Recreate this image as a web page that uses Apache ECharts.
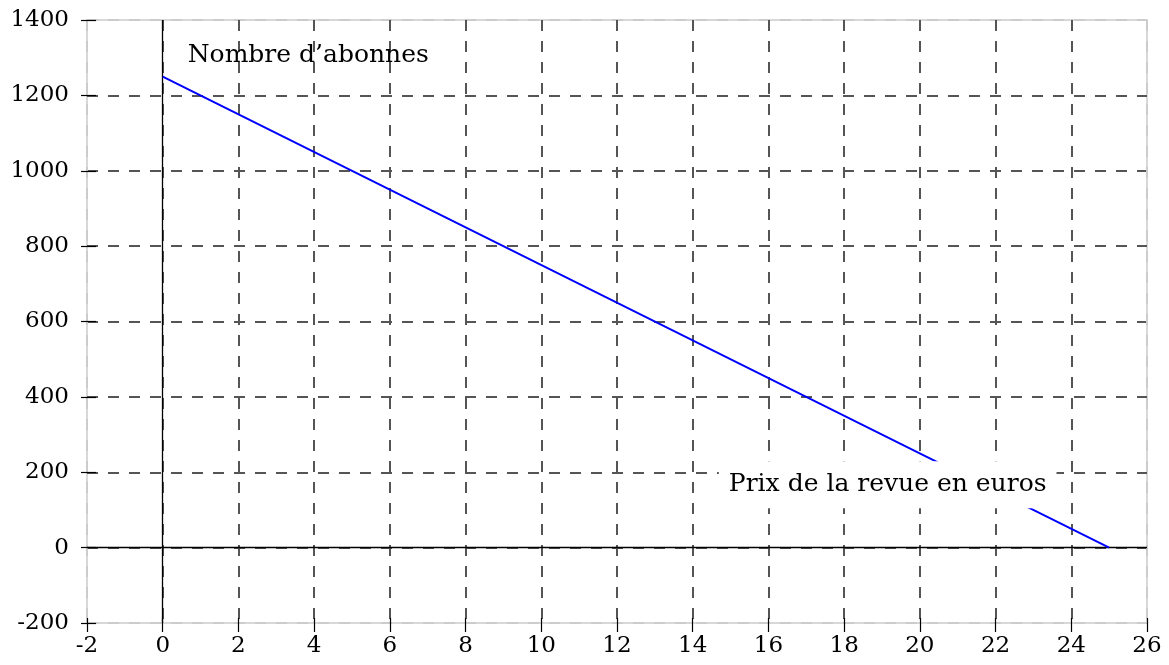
<!DOCTYPE html>
<html><head><meta charset="utf-8">
<script src="https://cdn.jsdelivr.net/npm/echarts@6/dist/echarts.min.js"></script>
<style>html,body{margin:0;padding:0;background:#fff}#c{width:1169px;height:665px}</style>
</head><body><div id="c"></div>
<script>
// Data
const prix = [0, 25];
const abonnes = [1250, 0];
const xTicks = [-2, 26, 2];      // min, max, interval
const yTicks = [-200, 1400, 200];
const labelTexts = ["Nombre d\u2019abonnes", "Prix de la revue en euros"];
const labelX = [0.66, 19.15];
const labelY = [1305, 167];

const FONT = 'DejaVu Serif';
const xCount = (xTicks[1] - xTicks[0]) / xTicks[2] + 1;
const yCount = (yTicks[1] - yTicks[0]) / yTicks[2] + 1;
function edgeColors(n){ const a=[]; for(let i=0;i<n;i++) a.push(i===0||i===n-1?'#cccccc':'#555555'); return a; }

const chart = echarts.init(document.getElementById('c'), null, {renderer:'canvas'});
const baseX = {type:'value', min:xTicks[0], max:xTicks[1], interval:xTicks[2], position:'bottom'};
const baseY = {type:'value', min:yTicks[0], max:yTicks[1], interval:yTicks[2], position:'left'};
const tickFmt = v => String(v);
chart.setOption({
  animation:false,
  grid:{left:87, right:22, top:20, bottom:42, show:true, borderColor:'#cccccc', borderWidth:1.5, backgroundColor:'transparent'},
  xAxis:[
    Object.assign({}, baseX, {
      axisLine:{show:false, onZero:false},
      axisTick:{show:true, length:9, lineStyle:{color:'#000', width:1.2}},
      axisLabel:{fontFamily:FONT, fontSize:23, color:'#000', margin:12, formatter:tickFmt},
      splitLine:{show:true, lineStyle:{color:edgeColors(xCount), width:2, type:[11,10]}}
    }),
    Object.assign({}, baseX, {
      axisLine:{show:false, onZero:false},
      axisTick:{show:true, inside:true, length:5, lineStyle:{color:'#000', width:1.2}},
      axisLabel:{show:false}, splitLine:{show:false}
    })
  ],
  yAxis:[
    Object.assign({}, baseY, {
      axisLine:{show:false, onZero:false},
      axisTick:{show:true, length:6, lineStyle:{color:'#000', width:1.2}},
      axisLabel:{fontFamily:FONT, fontSize:23, color:'#000', margin:18, formatter:tickFmt},
      splitLine:{show:true, lineStyle:{color:edgeColors(yCount), width:2, type:[11,10]}}
    }),
    Object.assign({}, baseY, {
      axisLine:{show:false, onZero:false},
      axisTick:{show:true, inside:true, length:9, lineStyle:{color:'#000', width:1.2}},
      axisLabel:{show:false}, splitLine:{show:false}
    })
  ],
  series:[
    {
      type:'line', data:[], silent:true, z:1,
      markLine:{silent:true, symbol:'none', label:{show:false},
        lineStyle:{color:'#000', width:1.3, type:'solid'},
        data:[{xAxis:0},{yAxis:0}]}
    },
    {
      type:'line', z:5, symbol:'none', silent:true,
      data: prix.map((p,i)=>[p, abonnes[i]]),
      lineStyle:{color:'#0000ff', width:2}
    }
  ]
});
const graphics = labelTexts.map((t,i)=>{
  const pt = chart.convertToPixel({gridIndex:0}, [labelX[i], labelY[i]]);
  return {
    type:'text', z:100, x:pt[0], y:pt[1], silent:true,
    style: Object.assign({text:t, fontFamily:FONT, fontSize:25, fill:'#000',
      align: i===0?'left':'center', verticalAlign:'middle'},
      i===1 ? {backgroundColor:'#fff', padding:[11,10,11,10]} : {})
  };
});
chart.setOption({graphic:graphics});
</script></body></html>
